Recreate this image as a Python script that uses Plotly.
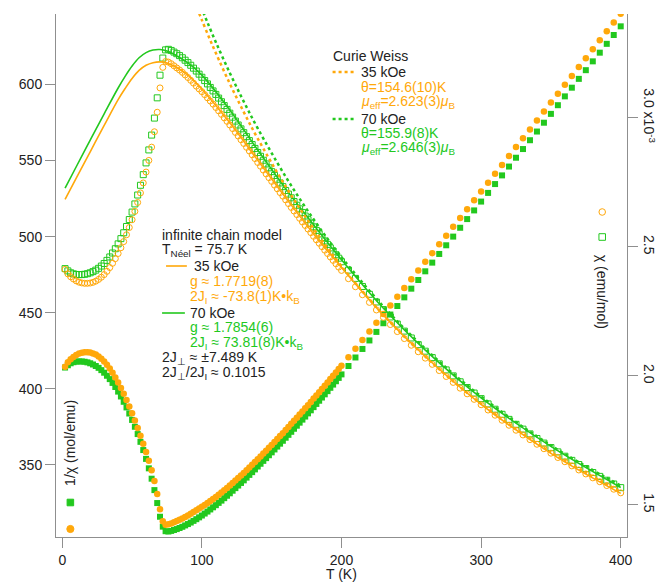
import plotly.graph_objects as go

# ---------------- data ----------------
T = [2, 4, 6, 8, 10, 12, 14, 16, 18, 20, 22, 24, 26, 28, 30, 32, 34, 36, 38, 40, 42, 44, 46, 48, 50,
     52, 54, 56, 58, 60, 62, 64, 66, 68, 70, 72, 74,
     76, 78, 80, 82, 84, 86, 88, 90, 92, 94, 96, 98, 100, 102, 104, 106, 108, 110, 112, 114, 116, 118,
     120, 122, 124, 126, 128, 130, 132, 134, 136, 138, 140, 142, 144, 146, 148, 150, 152, 154, 156, 158,
     160, 162, 164, 166, 168, 170, 172, 174, 176, 178, 180, 182, 184, 186, 188, 190, 192, 194, 196, 198,
     200, 205, 210, 215, 220, 225, 230, 235, 240, 245, 250, 255, 260, 265, 270, 275, 280, 285, 290,
     295, 300, 305, 310, 315, 320, 325, 330, 335, 340, 345, 350, 355, 360, 365, 370, 375, 380, 385,
     390, 395, 400]

# 1/chi (mol/emu), 35 kOe
inv_chi_35 = [414.5, 417.5, 419.5, 421.0, 422.3, 423.2, 423.7, 424.0, 424.0, 423.8, 423.3, 422.5, 421.3,
              419.8, 418.0, 415.8, 413.3, 410.5, 407.5, 404.2, 400.6, 396.8, 392.7, 388.4, 383.9, 379.2,
              374.3, 369.2, 364.0, 358.5, 352.8, 346.5, 339.5, 331.0, 321.0, 313.0, 310.8,
              311.0, 311.6, 312.4, 313.2, 314.0, 314.9, 315.9, 316.9, 318.0, 319.1,
              320.3, 321.4, 322.5, 323.7, 325.0, 326.3, 327.6, 329.0, 330.4, 331.9,
              333.4, 334.9, 336.5, 338.1, 339.8, 341.4, 343.1, 344.8, 346.6, 348.3,
              350.1, 351.9, 353.8, 355.6, 357.5, 359.4, 361.3, 363.2, 365.1, 367.0,
              369.0, 370.9, 372.9, 374.9, 377.0, 379.0, 381.0, 383.1, 385.2, 387.2,
              389.3, 391.4, 393.6, 395.7, 397.8, 399.9, 402.1, 404.2, 406.4, 408.6,
              410.8, 413.0,
              415.2, 420.8, 426.4, 432.1, 437.7, 443.4, 449.1, 454.8, 460.5, 466.3, 472.0, 477.7, 483.4,
              489.1, 494.9, 500.6, 506.4, 512.2, 518.0, 523.8, 529.6, 535.4, 541.2, 547.0, 552.9, 558.8,
              564.6, 570.4, 576.3, 582.1, 588.0, 593.9, 599.7, 605.5, 611.4, 617.2, 623.0, 628.9, 634.8,
              640.6, 646.4]

# 1/chi (mol/emu), 70 kOe
inv_chi_70 = [414.0, 415.5, 416.8, 417.5, 417.9, 418.0, 418.0, 417.8, 417.4, 416.8, 416.0, 415.0, 413.8,
              412.3, 410.6, 408.6, 406.4, 403.9, 401.2, 398.2, 395.0, 391.5, 387.8, 383.8, 379.6, 375.1,
              370.3, 365.2, 359.8, 354.0, 347.8, 341.0, 333.5, 325.0, 316.0, 309.5, 306.5,
              306.3, 306.7, 307.3, 307.9, 308.6, 309.4, 310.3, 311.2, 312.2, 313.3,
              314.4, 315.6, 316.8, 318.1, 319.4, 320.8, 322.2, 323.6, 325.1, 326.6,
              328.2, 329.8, 331.4, 333.1, 334.8, 336.5, 338.2, 339.9, 341.7, 343.5,
              345.3, 347.1, 349.0, 350.8, 352.7, 354.5, 356.4, 358.3, 360.2, 362.1,
              364.0, 365.9, 367.9, 369.8, 371.8, 373.8, 375.8, 377.8, 379.8, 381.8,
              383.9, 385.9, 388.0, 390.1, 392.2, 394.3, 396.4, 398.5, 400.7, 402.8,
              405.0, 407.2,
              409.5, 415.0, 420.6, 426.2, 431.8, 437.4, 443.1, 448.8, 454.4, 460.1, 465.8, 471.5, 477.2,
              482.9, 488.6, 494.3, 500.0, 505.8, 511.5, 517.2, 523.0, 528.7, 534.5, 540.2, 546.0, 551.8,
              557.5, 563.3, 569.0, 574.8, 580.6, 586.3, 592.1, 597.8, 603.6, 609.3, 615.1, 620.8, 626.6,
              632.4, 638.1]

# chi (10^-3 emu/mol), 35 kOe
chi_35 = [2.4125, 2.3952, 2.3838, 2.3753, 2.3680, 2.3629, 2.3601, 2.3585, 2.3585, 2.3596, 2.3624, 2.3669,
          2.3736, 2.3821, 2.3923, 2.4050, 2.4195, 2.4361, 2.4540, 2.4740, 2.4963, 2.5202, 2.5465, 2.5747,
          2.6048, 2.6371, 2.6716, 2.7086, 2.7473, 2.7894, 2.8345, 2.8860, 2.9455, 3.0211, 3.1153, 3.1949,
          3.2175,
          3.2154, 3.2092, 3.2010, 3.1928, 3.1847, 3.1756, 3.1656, 3.1556, 3.1447, 3.1338,
          3.1221, 3.1114, 3.1008, 3.0893, 3.0769, 3.0647, 3.0525, 3.0395, 3.0266, 3.0130,
          2.9994, 2.9860, 2.9718, 2.9577, 2.9429, 2.9291, 2.9146, 2.9002, 2.8852, 2.8711,
          2.8563, 2.8417, 2.8265, 2.8121, 2.7972, 2.7824, 2.7678, 2.7533, 2.7390, 2.7248,
          2.7100, 2.6962, 2.6817, 2.6674, 2.6525, 2.6385, 2.6247, 2.6103, 2.5961, 2.5826,
          2.5687, 2.5549, 2.5407, 2.5272, 2.5138, 2.5006, 2.4869, 2.4740, 2.4606, 2.4474,
          2.4343, 2.4213,
          2.4085, 2.3764, 2.3452, 2.3143, 2.2847, 2.2553, 2.2267, 2.1988, 2.1716, 2.1445, 2.1186, 2.0934,
          2.0687, 2.0446, 2.0206, 1.9976, 1.9747, 1.9524, 1.9305, 1.9091, 1.8882, 1.8678, 1.8477, 1.8282,
          1.8087, 1.7895, 1.7712, 1.7532, 1.7352, 1.7179, 1.7007, 1.6838, 1.6675, 1.6515, 1.6356, 1.6202,
          1.6051, 1.5901, 1.5753, 1.5610, 1.5470]

# chi (10^-3 emu/mol), 70 kOe
chi_70 = [2.4155, 2.4067, 2.3992, 2.3952, 2.3929, 2.3923, 2.3923, 2.3935, 2.3958, 2.3992, 2.4038, 2.4096,
          2.4166, 2.4254, 2.4354, 2.4474, 2.4606, 2.4759, 2.4925, 2.5113, 2.5316, 2.5543, 2.5786, 2.6055,
          2.6344, 2.6660, 2.7005, 2.7382, 2.7793, 2.8249, 2.8752, 2.9326, 2.9985, 3.0769, 3.1646, 3.2310,
          3.2626,
          3.2648, 3.2605, 3.2541, 3.2478, 3.2404, 3.2321, 3.2227, 3.2134, 3.2031, 3.1918,
          3.1807, 3.1686, 3.1566, 3.1437, 3.1309, 3.1172, 3.1037, 3.0902, 3.0760, 3.0618,
          3.0469, 3.0321, 3.0175, 3.0021, 2.9869, 2.9718, 2.9568, 2.9420, 2.9265, 2.9112,
          2.8960, 2.8810, 2.8653, 2.8506, 2.8353, 2.8209, 2.8058, 2.7910, 2.7762, 2.7617,
          2.7473, 2.7330, 2.7181, 2.7042, 2.6896, 2.6752, 2.6610, 2.6469, 2.6330, 2.6192,
          2.6049, 2.5914, 2.5773, 2.5635, 2.5497, 2.5361, 2.5227, 2.5094, 2.4956, 2.4826,
          2.4691, 2.4558,
          2.4420, 2.4096, 2.3776, 2.3463, 2.3159, 2.2862, 2.2568, 2.2282, 2.2007, 2.1734, 2.1468, 2.1209,
          2.0956, 2.0708, 2.0467, 2.0231, 2.0000, 1.9771, 1.9550, 1.9335, 1.9120, 1.8914, 1.8709, 1.8512,
          1.8315, 1.8123, 1.7937, 1.7753, 1.7575, 1.7397, 1.7224, 1.7056, 1.6889, 1.6728, 1.6567, 1.6412,
          1.6258, 1.6108, 1.5959, 1.5813, 1.5672]

# infinite chain model fits (10^-3 emu/mol)
fit_T = [2, 10, 20, 30, 40, 45, 50, 55, 60, 65, 70, 75, 80, 90, 100, 120, 140, 160, 180, 200, 230, 260,
         300, 350, 400]
fit_35 = [2.684, 2.766, 2.868, 2.970, 3.070, 3.113, 3.152, 3.183, 3.203, 3.213, 3.216, 3.212, 3.200, 3.165,
          3.110, 2.980, 2.835, 2.690, 2.550, 2.420, 2.235, 2.075, 1.890, 1.700, 1.545]
fit_70 = [2.727, 2.810, 2.913, 3.015, 3.115, 3.160, 3.200, 3.232, 3.252, 3.262, 3.264, 3.258, 3.246, 3.212,
          3.165, 3.030, 2.875, 2.725, 2.585, 2.450, 2.262, 2.100, 1.915, 1.727, 1.568]

# Curie-Weiss curves (10^-3 emu/mol)
cw_T_35 = [98, 100, 105, 110, 120, 130, 140, 160, 180, 200, 230, 260, 300, 350, 400]
cw_35 = [3.4046, 3.3778, 3.3128, 3.2502, 3.1318, 3.0218, 2.9192, 2.7336, 2.5702, 2.4253, 2.2361, 2.0743,
         1.8918, 1.7043, 1.5507]
cw_T_70 = [101, 104, 110, 120, 130, 140, 160, 180, 200, 230, 260, 300, 350, 400]
cw_70 = [3.4079, 3.3686, 3.2926, 3.1733, 3.0623, 2.9588, 2.7715, 2.6064, 2.4600, 2.2687, 2.1051, 1.9204,
         1.7306, 1.5749]

left_ticks = [350, 400, 450, 500, 550, 600]
right_ticks = [1.5, 2.0, 2.5, 3.0]
right_ticktext = ["1.5", "2.0", "2.5", "3.0 x10<sup>-3</sup>"]
x_ticks = [0, 100, 200, 300, 400]

# ---------------- style ----------------
ORANGE = "#FFA80A"
GREEN = "#22C81E"
AXC = "#8f8f8f"
TXT = "#222222"
FONT = "Liberation Sans, Arial, sans-serif"

L, R, TOP, B = 56, 632, 14, 537
W, H = R - L, B - TOP


def px(x):
    return (x - L) / W


def py(y):
    return (B - y) / H


fig = go.Figure()

# chi data (open markers, right axis)
fig.add_trace(go.Scatter(x=T, y=chi_70, yaxis="y2", mode="markers",
                         marker=dict(symbol="square-open", size=6, color=GREEN, line=dict(width=1, color=GREEN))))
fig.add_trace(go.Scatter(x=T, y=chi_35, yaxis="y2", mode="markers",
                         marker=dict(symbol="circle-open", size=6, color=ORANGE, line=dict(width=1, color=ORANGE))))
# fits
fig.add_trace(go.Scatter(x=fit_T, y=fit_35, yaxis="y2", mode="lines", line=dict(color=ORANGE, width=1.6, shape="spline")))
fig.add_trace(go.Scatter(x=fit_T, y=fit_70, yaxis="y2", mode="lines", line=dict(color=GREEN, width=1.6, shape="spline")))
# Curie-Weiss
fig.add_trace(go.Scatter(x=cw_T_35, y=cw_35, yaxis="y2", mode="lines",
                         line=dict(color=ORANGE, width=2.5, dash="dot", shape="spline")))
fig.add_trace(go.Scatter(x=cw_T_70, y=cw_70, yaxis="y2", mode="lines",
                         line=dict(color=GREEN, width=2.5, dash="dot", shape="spline")))
# 1/chi data (filled markers, left axis)
fig.add_trace(go.Scatter(x=T, y=inv_chi_70, mode="markers",
                         marker=dict(symbol="square", size=6, color=GREEN)))
fig.add_trace(go.Scatter(x=T, y=inv_chi_35, mode="markers",
                         marker=dict(symbol="circle", size=6.5, color=ORANGE)))

axis_common = dict(showgrid=False, zeroline=False, showline=True, linecolor=AXC, linewidth=1,
                   ticks="outside", ticklen=10, tickcolor=AXC, tickwidth=1,
                   tickfont=dict(family=FONT, size=14, color=TXT))

fig.update_layout(
    width=670, height=582,
    margin=dict(l=L, r=670 - R, t=TOP, b=582 - B),
    plot_bgcolor="white", paper_bgcolor="white",
    showlegend=False,
    xaxis=dict(range=[-4.5, 404.5], tickvals=x_ticks, **axis_common),
    yaxis=dict(range=[302.7, 646.2], tickvals=left_ticks, **axis_common),
    yaxis2=dict(range=[1.376, 3.4016], tickvals=right_ticks, ticktext=right_ticktext, tickangle=90,
                overlaying="y", side="right", **axis_common),
)

ann = []


def text(x, y, s, color=TXT, size=14, anchor="left", angle=0):
    ann.append(dict(x=px(x), y=py(y), xref="paper", yref="paper", text=s, showarrow=False,
                    xanchor=anchor, yanchor="middle", textangle=angle,
                    font=dict(family=FONT, size=size, color=color)))


# axis titles
text(344, 574, "T (K)", anchor="center", size=14)
text(70, 443, "1/χ (mol/emu)", anchor="center", size=14, angle=-90)
text(607, 292, "χ (emu/mol)", anchor="center", size=14, angle=90)

# Curie Weiss block
text(333, 56, "Curie Weiss")
text(362, 72, "35 kOe")
text(362, 87, "θ=154.6(10)K", color=ORANGE)
text(362, 102, "<i>μ</i><sub>eff</sub>=2.623(3)<i>μ</i><sub>B</sub>", color=ORANGE)
text(362, 119, "70 kOe")
text(362, 133, "θ=155.9(8)K", color=GREEN)
text(362, 148, "<i>μ</i><sub>eff</sub>=2.646(3)<i>μ</i><sub>B</sub>", color=GREEN)

# infinite chain block
text(161, 235, "infinite chain model")
text(161, 250, "T<sub>Néel</sub> = 75.7 K")
text(193, 266, "35 kOe")
text(189, 281, "g ≈ 1.7719(8)", color=ORANGE)
text(189, 297, "2J<sub>I</sub> ≈ -73.8(1)K•k<sub>B</sub>", color=ORANGE)
text(189, 313, "70 kOe")
text(189, 327, "g ≈ 1.7854(6)", color=GREEN)
text(189, 343, "2J<sub>I</sub> ≈ 73.81(8)K•k<sub>B</sub>", color=GREEN)
text(161, 358, "2J<sub>⊥</sub> ≈ ±7.489 K")
text(161, 373, "2J<sub>⊥</sub>/2J<sub>I</sub> ≈ 0.1015")

shapes = []
# legend samples
shapes.append(dict(type="line", xref="paper", yref="paper", x0=px(335), x1=px(357), y0=py(72), y1=py(72),
                   line=dict(color=ORANGE, width=2.5, dash="dot")))
shapes.append(dict(type="line", xref="paper", yref="paper", x0=px(335), x1=px(357), y0=py(119), y1=py(119),
                   line=dict(color=GREEN, width=2.5, dash="dot")))
shapes.append(dict(type="line", xref="paper", yref="paper", x0=px(167), x1=px(188), y0=py(266), y1=py(266),
                   line=dict(color=ORANGE, width=1.6)))
shapes.append(dict(type="line", xref="paper", yref="paper", x0=px(163), x1=px(186), y0=py(313), y1=py(313),
                   line=dict(color=GREEN, width=1.6)))


def sym(kind, x, y, color, filled, r=3.3):
    shapes.append(dict(type=kind, xref="paper", yref="paper",
                       x0=px(x - r), x1=px(x + r), y0=py(y + r), y1=py(y - r),
                       line=dict(color=color, width=1),
                       fillcolor=color if filled else "rgba(0,0,0,0)"))


sym("rect", 70.5, 502.5, GREEN, True)
sym("circle", 70.5, 529, ORANGE, True, r=3.6)
sym("circle", 607, 212, ORANGE, False)
sym("rect", 607, 237, GREEN, False)

fig.update_layout(annotations=ann, shapes=shapes)

fig.write_html("out.html")
